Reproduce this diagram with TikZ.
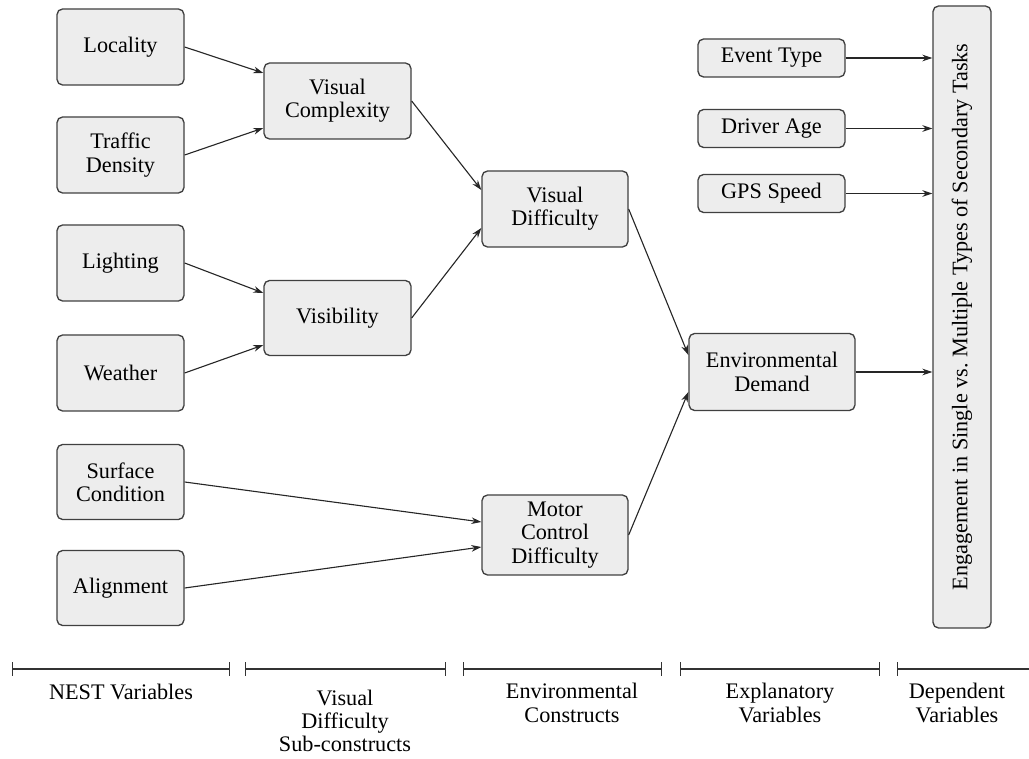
\documentclass[tikz,border=0pt]{standalone}
\usepackage{fontspec}
\setmainfont{Liberation Serif}[Ligatures=TeX]
\usetikzlibrary{arrows.meta,calc}
\begin{document}
\begin{tikzpicture}[x=0.45pt,y=-0.45pt,
  every node/.style={font=\rmfamily\fontsize{10}{10.5}\selectfont},
  box/.style={draw=black!75, line width=0.6pt, fill=black!7, rounded corners=2.5pt,
    align=center, inner sep=0pt},
  sz/.style 2 args={minimum width=#1*0.45pt, minimum height=#2*0.45pt},
  arr/.style={-{Stealth[length=4.5pt,width=3pt]}, line width=0.5pt, draw=black!85},
  lbl/.style={align=center, inner sep=0pt},
  bar/.style={{Bar[width=6pt]}-{Bar[width=6pt]}, line width=0.6pt, draw=black!80},
  barl/.style={{Bar[width=6pt]}-, line width=0.6pt, draw=black!80}]
\useasboundingbox (0,0) rectangle (1029,759);

% NEST variables
\node[box,sz={127}{76}] (loc)   at (120.5,47)  {Locality};
\node[box,sz={127}{76}] (traf)  at (120.5,155) {Traffic\\Density};
\node[box,sz={127}{76}] (light) at (120.5,263) {Lighting};
\node[box,sz={127}{76}] (weath) at (120.5,373) {Weather};
\node[box,sz={127}{75}] (surf)  at (120.5,482) {Surface\\Condition};
\node[box,sz={127}{75}] (algn)  at (120.5,588) {Alignment};

% sub-constructs
\node[box,sz={147}{76}] (vc)  at (337.5,101) {Visual\\Complexity};
\node[box,sz={147}{75}] (vis) at (337.5,318) {Visibility};

% constructs
\node[box,sz={146}{76}] (vd)  at (555,209) {Visual\\Difficulty};
\node[box,sz={146}{80}] (mcd) at (555,535) {Motor\\Control\\Difficulty};
\node[box,sz={166}{77}] (env) at (772,372) {Environmental\\Demand};

% explanatory
\node[box,sz={147}{38}] (evt) at (771.5,58)    {Event Type};
\node[box,sz={147}{38}] (age) at (771.5,128.5) {Driver Age};
\node[box,sz={147}{38}] (gps) at (771.5,193.5) {GPS Speed};

% dependent
\node[box,sz={58}{622}] (dep) at (962,317) {};
\node[lbl,rotate=90] (deptxt) at (dep.center) {Engagement in Single vs.\ Multiple Types of Secondary Tasks};

% connectors
\draw[arr] (loc.east)   -- ($(vc.west)+(0,-28)$);
\draw[arr] (traf.east)  -- ($(vc.west)+(0,27)$);
\draw[arr] (light.east) -- ($(vis.west)+(0,-25)$);
\draw[arr] (weath.east) -- ($(vis.west)+(0,27)$);
\draw[arr] (vc.east)    -- ($(vd.west)+(0,-19)$);
\draw[arr] (vis.east)   -- ($(vd.west)+(0,19)$);
\draw[arr] (surf.east)  -- ($(mcd.west)+(0,-13)$);
\draw[arr] (algn.east)  -- ($(mcd.west)+(0,12)$);
\draw[arr] (vd.east)    -- ($(env.west)+(0,-17)$);
\draw[arr] (mcd.east)   -- ($(env.west)+(0,20)$);
\draw[arr] (env.east)   -- (env.east -| dep.west);
\draw[arr] (evt.east)   -- (evt.east -| dep.west);
\draw[arr] (age.east)   -- (age.east -| dep.west);
\draw[arr] (gps.east)   -- (gps.east -| dep.west);

% bottom scale
\coordinate (b1a) at (12,669);  \coordinate (b1b) at (230,669);
\coordinate (b2a) at (245,669); \coordinate (b2b) at (446,669);
\coordinate (b3a) at (463,669); \coordinate (b3b) at (662,669);
\coordinate (b4a) at (680,669); \coordinate (b4b) at (880,669);
\coordinate (b5a) at (897,669); \coordinate (b5b) at (1029,669);
\draw[bar] (b1a) -- (b1b);
\draw[bar] (b2a) -- (b2b);
\draw[bar] (b3a) -- (b3b);
\draw[bar] (b4a) -- (b4b);
\draw[barl] (b5a) -- (b5b);

\node[lbl] (t1) at (121,692)   {NEST Variables};
\node[lbl] (t2) at (345,721)   {Visual\\Difficulty\\Sub-constructs};
\node[lbl] (t3) at (572,703)   {Environmental\\Constructs};
\node[lbl] (t4) at (780,703)   {Explanatory\\Variables};
\node[lbl] (t5) at (957,703)   {Dependent\\Variables};
\end{tikzpicture}
\end{document}
